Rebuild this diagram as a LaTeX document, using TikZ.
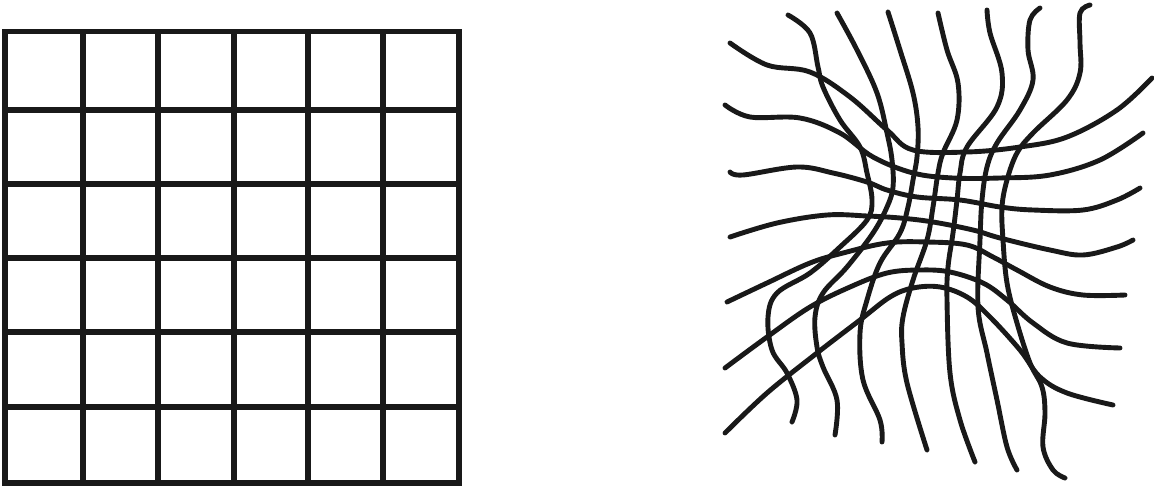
\documentclass[tikz,border=0pt]{standalone}
\begin{document}
\begin{tikzpicture}[x=1pt,y=-1pt,
  gridline/.style={line width=5.2pt,color=black!90,line cap=rect},
  warpline/.style={line width=4.9pt,color=black!90,line cap=round,line join=round}]
\useasboundingbox (0,0) rectangle (1154,487);
% left regular grid
\foreach \v in {5,83,158,234,308,383,459}{
  \draw[gridline] (\v,31.7) -- (\v,483);
}
\foreach \h in {31.7,110,184,258,332,407,483}{
  \draw[gridline] (5,\h) -- (459,\h);
}
% right warped grid: horizontal curves
\draw[warpline] plot[smooth,tension=0.6] coordinates {(730,43) (767,65) (810,72) (850,97) (887,130) (913,150) (967,152) (1020,147) (1067,137) (1117,110) (1152,78)};
\draw[warpline] plot[smooth,tension=0.6] coordinates {(725,105) (750,117) (800,118) (840,133) (873,157) (913,173) (953,178) (1000,178) (1050,175) (1100,160) (1143,133)};
\draw[warpline] plot[smooth,tension=0.6] coordinates {(730,172) (743,175) (797,167) (833,173) (867,182) (887,190) (917,197) (960,200) (1000,207) (1033,210) (1083,210) (1117,200) (1140,188)};
\draw[warpline] plot[smooth,tension=0.6] coordinates {(730,237) (777,223) (827,215) (867,216) (900,218) (933,222) (973,230) (1000,238) (1050,250) (1083,255) (1117,247) (1133,240)};
\draw[warpline] plot[smooth,tension=0.6] coordinates {(727,302) (767,283) (810,263) (843,253) (887,243) (927,242) (967,245) (993,257) (1017,270) (1050,287) (1083,295) (1125,295)};
\draw[warpline] plot[smooth,tension=0.6] coordinates {(725,368) (767,337) (810,307) (850,287) (887,273) (920,270) (950,272) (983,283) (1007,300) (1033,323) (1067,343) (1120,348)};
\draw[warpline] plot[smooth,tension=0.6] coordinates {(725,433) (767,393) (817,353) (860,320) (890,297) (913,288) (940,287) (967,297) (990,317) (1020,350) (1040,377) (1067,393) (1113,405)};
% right warped grid: vertical curves
\draw[warpline] plot[smooth,tension=0.6] coordinates {(788,15) (810,33) (818,67) (823,87) (840,120) (860,147) (867,173) (872,200) (867,220) (840,247) (810,273) (777,293) (768,317) (772,350) (787,373) (797,400) (792,422)};
\draw[warpline] plot[smooth,tension=0.6] coordinates {(837,13) (857,50) (877,93) (887,133) (892,160) (893,187) (887,207) (873,233) (847,267) (823,293) (815,317) (817,347) (823,367) (837,400) (835,435)};
\draw[warpline] plot[smooth,tension=0.6] coordinates {(888,12) (900,50) (913,93) (918,127) (917,157) (913,180) (908,207) (900,233) (880,263) (867,300) (860,333) (863,380) (880,420) (882,442)};
\draw[warpline] plot[smooth,tension=0.6] coordinates {(938,13) (947,50) (958,83) (957,120) (943,153) (938,173) (933,207) (927,240) (913,280) (903,317) (902,343) (907,383) (927,450)};
\draw[warpline] plot[smooth,tension=0.6] coordinates {(987,10) (990,33) (1002,73) (997,107) (967,147) (960,173) (957,200) (953,233) (948,267) (947,300) (950,373) (960,420) (975,462)};
\draw[warpline] plot[smooth,tension=0.6] coordinates {(1040,8) (1030,20) (1028,50) (1033,80) (1020,110) (997,143) (987,167) (982,200) (980,240) (978,307) (987,353) (997,400) (1007,447) (1017,470)};
\draw[warpline] plot[smooth,tension=0.6] coordinates {(1090,5) (1080,13) (1080,43) (1080,73) (1067,100) (1033,133) (1017,153) (1007,180) (1002,207) (1003,240) (1007,283) (1017,323) (1030,363) (1042,387) (1045,413) (1043,447) (1053,470) (1065,478)};
\end{tikzpicture}
\end{document}
